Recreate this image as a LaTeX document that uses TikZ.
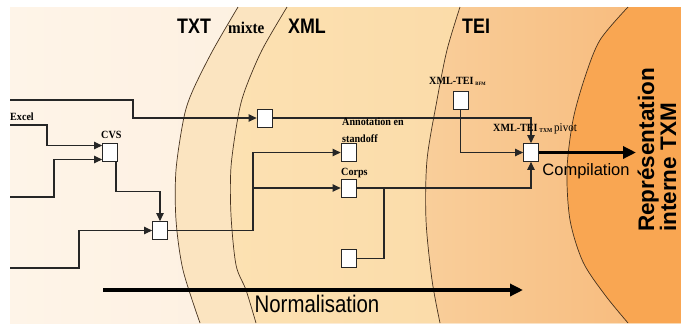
\documentclass[tikz,border=0pt]{standalone}
\usepackage{fontspec}
\setmainfont{Liberation Serif}
\newfontfamily\hdfont[FakeStretch=0.85]{Liberation Sans}
\newfontfamily\plainsans{Liberation Sans}
\newfontfamily\lblfont[FakeStretch=0.92]{Liberation Serif}
\usetikzlibrary{arrows.meta}
\definecolor{cTXTl}{RGB}{254,244,232}
\definecolor{cTXTr}{RGB}{252,234,212}
\definecolor{cMix}{RGB}{251,228,192}
\definecolor{cXMLl}{RGB}{252,225,178}
\definecolor{cXMLr}{RGB}{250,214,160}
\definecolor{cTEIl}{RGB}{249,206,154}
\definecolor{cTEIr}{RGB}{247,184,120}
\definecolor{cTXM}{RGB}{249,166,82}
\definecolor{zline}{RGB}{70,50,30}
\begin{document}
\begin{tikzpicture}[x=1pt,y=-1pt,
  box/.style={draw=black!85, fill=white, line width=0.8pt, minimum width=15pt, minimum height=18pt, inner sep=0pt},
  conn/.style={draw=black!85, line width=1.1pt},
  arr/.style={conn, -{Triangle[length=8pt,width=7.5pt]}},
  bigarr/.style={draw=black, line width=3.5pt, -{Triangle[length=13pt,width=12pt]}},
  hdr/.style={font=\hdfont\bfseries\fontsize{21}{21}\selectfont, inner sep=0pt, anchor=base west},
  lbl/.style={font=\lblfont\bfseries\fontsize{11}{11}\selectfont, inner sep=0pt, anchor=base west},
  zone/.style={draw=zline, line width=0.7pt},
]
\useasboundingbox (0,0) rectangle (681,325);
\fill[white] (0,0) rectangle (681,325);
% zones
\shade[left color=cTXTl, right color=cTXTr] (10,7) rectangle (681,323);
\fill[cMix] plot[smooth] coordinates {(238,7) (213,50) (193,90) (184,117) (176,170) (176,220) (183,270) (200,323)} -- (681,323) -- (681,7) -- cycle;
\shade[left color=cXMLl, right color=cXMLr] plot[smooth] coordinates {(287,7) (262,50) (245,90) (238,117) (231,167) (231,215) (236,265) (246,290) (256,323)} -- (681,323) -- (681,7) -- cycle;
\shade[left color=cTEIl, right color=cTEIr] plot[smooth] coordinates {(460,7) (447,50) (437,100) (427,160) (426,220) (432,280) (440,323)} -- (681,323) -- (681,7) -- cycle;
\fill[cTXM] plot[smooth] coordinates {(628,7) (600,40) (585,77) (573,120) (567,170) (570,220) (583,262) (605,295) (628,323)} -- (681,323) -- (681,7) -- cycle;
\draw[zone] plot[smooth] coordinates {(238,7) (213,50) (193,90) (184,117) (176,170) (176,220) (183,270) (200,323)};
\draw[zone] plot[smooth] coordinates {(287,7) (262,50) (245,90) (238,117) (231,167) (231,215) (236,265) (246,290) (256,323)};
\draw[zone] plot[smooth] coordinates {(460,7) (447,50) (437,100) (427,160) (426,220) (432,280) (440,323)};
\draw[zone] plot[smooth] coordinates {(628,7) (600,40) (585,77) (573,120) (567,170) (570,220) (583,262) (605,295) (628,323)};
% headers
\node[hdr] (hTXT) at (177,33) {TXT};
\node[font=\lblfont\bfseries\fontsize{16.5}{16.5}\selectfont, inner sep=0pt, anchor=base west] (hmix) at (228,33) {mixte};
\node[hdr] (hXML) at (288,33) {XML};
\node[hdr] (hTEI) at (462,33) {TEI};
% boxes
\node[box] (b1) at (264.5,118) {};
\node[box] (cvs) at (110,152.5) {};
\node[box] (mrg) at (160,230.5) {};
\node[box] (ann) at (348.5,152.5) {};
\node[box] (corps) at (348.5,188) {};
\node[box] (bot) at (348.5,258.5) {};
\node[box] (bfm) at (460.5,100) {};
\node[box] (piv) at (531,152.5) {};
% free ends
\coordinate (in1) at (10,100);
\coordinate (in2) at (10,125);
\coordinate (in3) at (10,197);
\coordinate (in4) at (10,268);
\coordinate (j1) at (253,230.5);
\coordinate (j2) at (384,188);
\coordinate (tipP) at (636,152.5);
\coordinate (n0) at (103,290);
\coordinate (n1) at (523,290);
% connectors
\draw[arr] (in1) -- (133,100) |- (b1.west);
\draw[arr] (b1.east) -| (piv.north);
\draw[arr] (in2) -- (47,125) |- ([yshift=7pt]cvs.west);
\draw[arr] (in3) -- (54,197) |- ([yshift=-7pt]cvs.west);
\draw[arr] ([xshift=6pt]cvs.south) -- ++(0,30) -| (mrg.north);
\draw[arr] (in4) -- (79,268) |- (mrg.west);
\draw[conn] (mrg.east) -- (j1);
\draw[arr] (j1) |- (ann.west);
\draw[arr] (j1 |- corps.west) -- (corps.west);
\draw[arr] (corps.east) -| (piv.south);
\draw[conn] (j2) |- (bot.east);
\draw[arr] (bfm.south) |- (piv.west);
\draw[bigarr] (piv.east) -- (tipP);
\draw[bigarr] (n0) -- (n1);
% redraw boxes on top
\foreach \n in {b1,cvs,mrg,ann,corps,bot,bfm,piv} {\node[box] at (\n) {};}
% labels
\node[lbl] (lExcel) at (10,120) {Excel};
\node[lbl] (lCVS) at (101,138) {CVS};
\node[lbl] (lAnn1) at (342,125) {Annotation en};
\node[lbl] (lAnn2) at (342,142) {standoff};
\node[lbl] (lCorps) at (341,175) {Corps};
\node[lbl] (lBFM) at (429,84) {XML-TEI\,\raisebox{-1pt}{\fontsize{5}{5}\selectfont BFM}};
\node[lbl] (lPiv) at (493,131) {XML-TEI\,\raisebox{-1pt}{\fontsize{6}{6}\selectfont TXM}\,{\mdseries\fontsize{12}{12}\selectfont pivot}};
\node[font=\plainsans\fontsize{16.5}{16.5}\selectfont, inner sep=0pt, anchor=base] (lComp) at (586,175) {Compilation};
\node[font=\hdfont\fontsize{24}{24}\selectfont, inner sep=0pt, anchor=base] (lNorm) at (317,312) {Normalisation};
\node[font=\plainsans\bfseries\fontsize{22.5}{20.5}\selectfont, inner sep=0pt, rotate=90, align=left] (lTXM) at (657,150) {Représentation\\interne TXM};
\end{tikzpicture}
\end{document}
